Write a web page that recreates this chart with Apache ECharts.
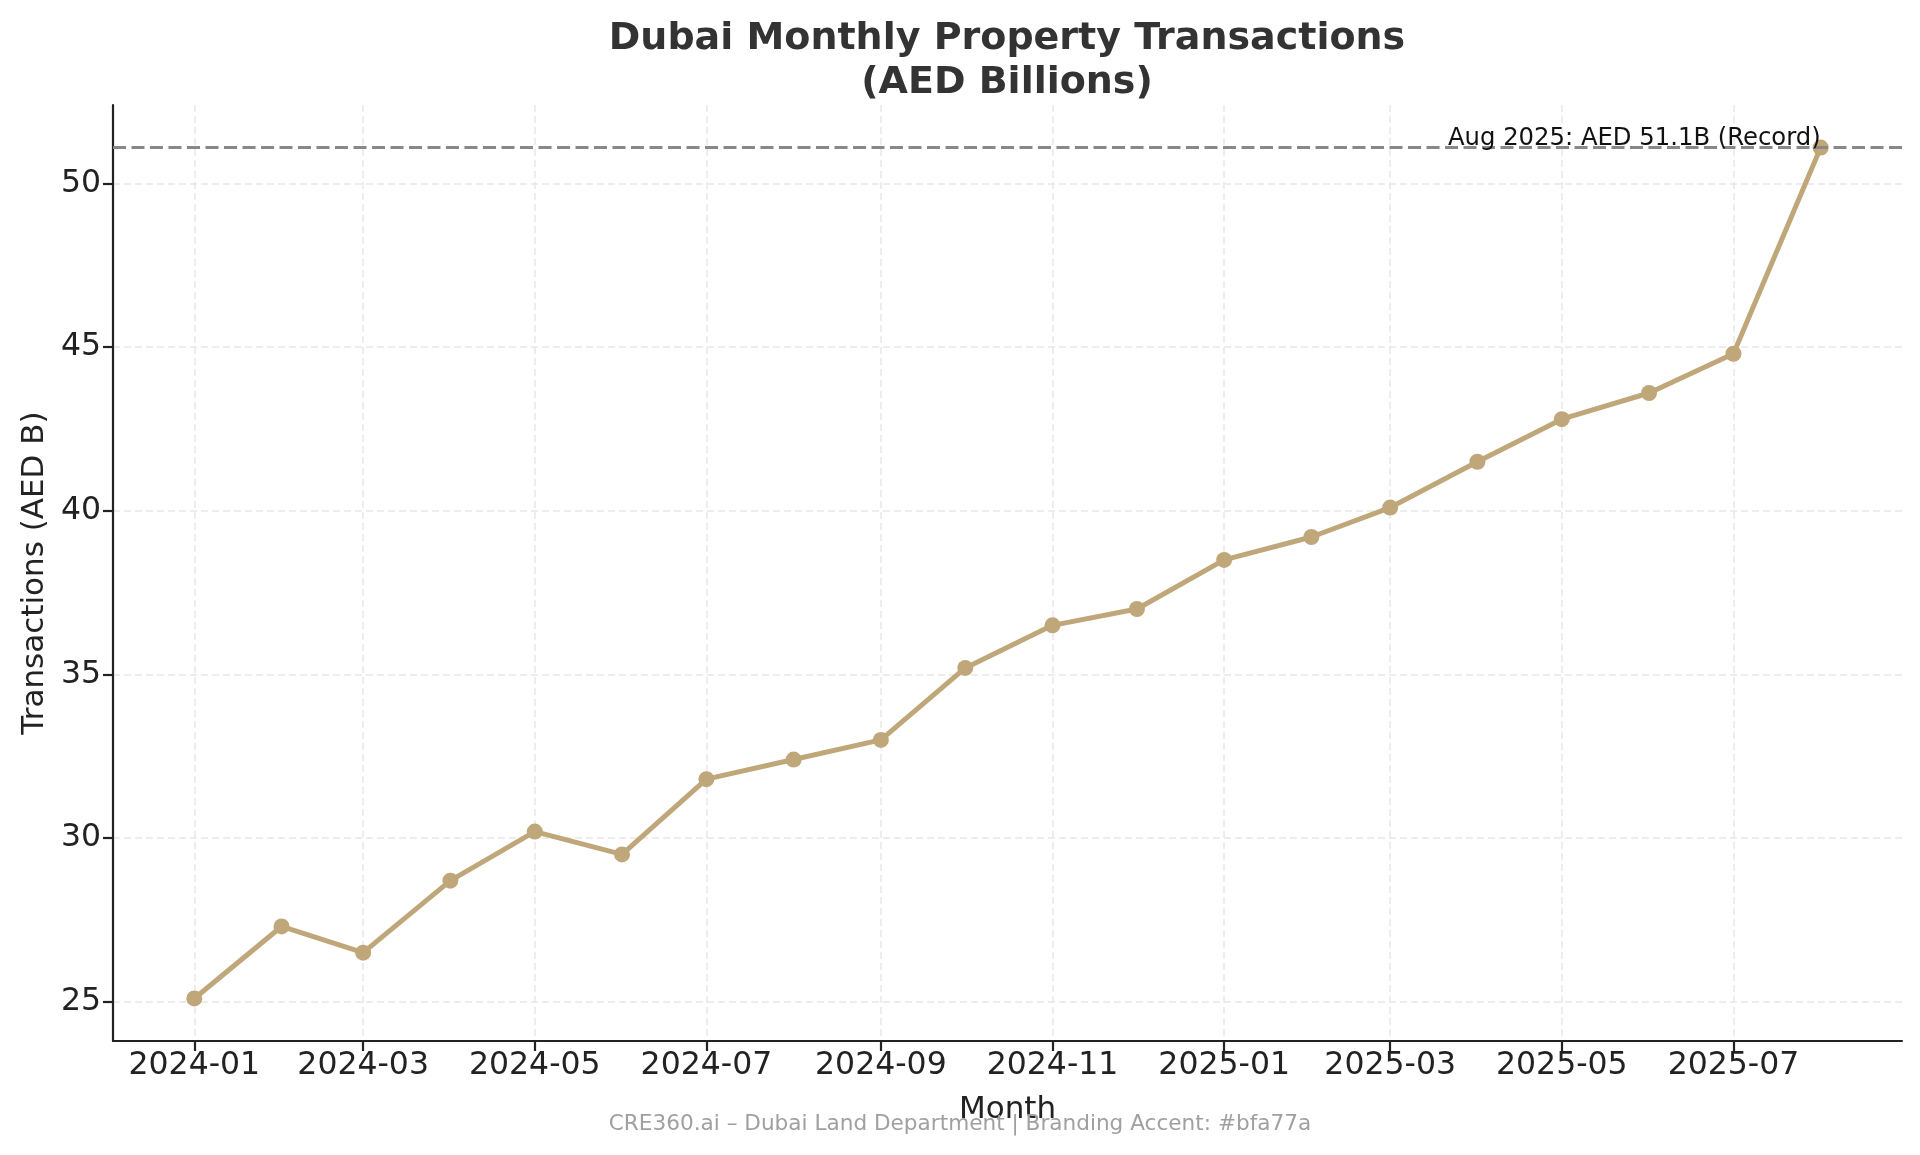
<!DOCTYPE html>
<html>
<head>
<meta charset="utf-8">
<title>Dubai Monthly Property Transactions</title>
<script src="https://cdn.jsdelivr.net/npm/echarts@6/dist/echarts.min.js"></script>
<style>
  html, body { margin: 0; padding: 0; background: #fff; }
  #chart { width: 1920px; height: 1155px; }
</style>
</head>
<body>
<div id="chart"></div>
<script>
// monthly totals, AED billions
var months = [
  '2024-01-01', '2024-02-01', '2024-03-01', '2024-04-01', '2024-05-01', '2024-06-01',
  '2024-07-01', '2024-08-01', '2024-09-01', '2024-10-01', '2024-11-01', '2024-12-01',
  '2025-01-01', '2025-02-01', '2025-03-01', '2025-04-01', '2025-05-01', '2025-06-01',
  '2025-07-01', '2025-08-01'
]
var values = [
  25.1, 27.3, 26.5, 28.7, 30.2, 29.5,
  31.8, 32.4, 33.0, 35.2, 36.5, 37.0,
  38.5, 39.2, 40.1, 41.5, 42.8, 43.6,
  44.8, 51.1
]
var xTicks = [
  '2024-01-01', '2024-03-01', '2024-05-01', '2024-07-01', '2024-09-01',
  '2024-11-01', '2025-01-01', '2025-03-01', '2025-05-01', '2025-07-01'
]
var yTicks = [25, 30, 35, 40, 45, 50]

var ACCENT = '#bfa77a'
var FONT = 'DejaVu Sans'

var last = months.length - 1
var recordText = 'Aug 2025: AED ' + values[last].toFixed(1) + 'B (Record)'

// dates go on a plain value axis as timestamps so the spacing follows real days
function toTime(s) { return echarts.time.parse(s).getTime() }
var monthTimes = months.map(toTime)
var xTickTimes = xTicks.map(toTime)

// matplotlib-like 5% padding on both axes
function padMin(v) { return v.min - (v.max - v.min) * 0.05 }
function padMax(v) { return v.max + (v.max - v.min) * 0.05 }

var chart = echarts.init(document.getElementById('chart'))

var option = {
  animation: false,
  backgroundColor: '#fff',
  title: [
    {
      text: 'Dubai Monthly Property Transactions\n(AED Billions)',
      left: 1007,
      top: 17,
      padding: 0,
      textAlign: 'center',
      textStyle: {
        fontFamily: FONT,
        fontSize: 38,
        fontWeight: 'bold',
        color: '#333',
        lineHeight: 44
      }
    },
    {
      text: 'CRE360.ai \u2013 Dubai Land Department | Branding Accent: #bfa77a',
      left: 'center',
      top: 1113,
      padding: 0,
      textStyle: {
        fontFamily: FONT,
        fontSize: 21.6,
        fontWeight: 'normal',
        color: '#a0a0a0',
        lineHeight: 22
      }
    }
  ],
  grid: { left: 113, right: 18, top: 105, bottom: 114 },
  xAxis: {
    type: 'value',
    min: padMin,
    max: padMax,
    name: 'Month',
    nameLocation: 'middle',
    nameGap: 53,
    nameTextStyle: { fontFamily: FONT, fontSize: 31, color: '#222' },
    axisLine: { onZero: false, lineStyle: { color: '#222', width: 2.2 } },
    axisTick: { show: true, length: 10, lineStyle: { color: '#222', width: 2.2 }, customValues: xTickTimes },
    axisLabel: {
      customValues: xTickTimes,
      margin: 9,
      fontFamily: FONT,
      fontSize: 31.5,
      color: '#222',
      formatter: function (val) { return echarts.time.format(val, '{yyyy}-{MM}', false) }
    },
    splitLine: { show: true, lineStyle: { color: '#e8e8e8', width: 1.5, type: [7, 4] } }
  },
  yAxis: {
    type: 'value',
    min: padMin,
    max: padMax,
    name: 'Transactions (AED B)',
    nameLocation: 'middle',
    nameGap: 63,
    nameTextStyle: { fontFamily: FONT, fontSize: 31, color: '#222' },
    axisLine: { show: true, onZero: false, lineStyle: { color: '#222', width: 2.2 } },
    axisTick: { show: true, length: 10, lineStyle: { color: '#222', width: 2.2 }, customValues: yTicks },
    axisLabel: { customValues: yTicks, margin: 12, fontFamily: FONT, fontSize: 31.5, color: '#222' },
    splitLine: { show: true, lineStyle: { color: '#e8e8e8', width: 1.5, type: [7, 4] } }
  },
  series: [
    {
      name: 'Transactions',
      type: 'line',
      data: monthTimes.map(function (t, i) { return [t, values[i]] }),
      symbol: 'circle',
      symbolSize: 16,
      lineStyle: { color: ACCENT, width: 5 },
      itemStyle: { color: ACCENT },
      markLine: {
        silent: true,
        symbol: ['none', 'none'],
        label: { show: false },
        lineStyle: { color: '#888', width: 3, type: [13, 5.5] },
        data: [{ yAxis: values[last] }]
      },
      markPoint: {
        silent: true,
        symbol: 'circle',
        symbolSize: 2,
        itemStyle: { color: 'rgba(0,0,0,0)' },
        label: {
          show: true,
          position: 'top',
          distance: -4,
          align: 'right',
          formatter: recordText,
          fontFamily: FONT,
          fontSize: 24.3,
          color: '#111'
        },
        data: [{ coord: [monthTimes[last], values[last]] }]
      }
    }
  ]
}

chart.setOption(option)
</script>
</body>
</html>
